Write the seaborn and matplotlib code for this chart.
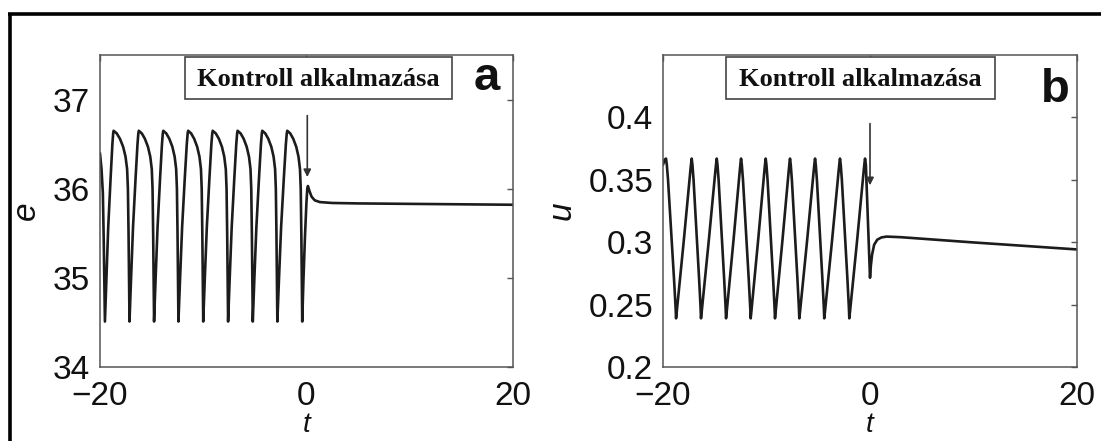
import numpy as np
import pandas as pd
import matplotlib
matplotlib.use("Agg")
import matplotlib.pyplot as plt
from matplotlib.lines import Line2D
from matplotlib.patches import Rectangle
import seaborn as sns

# ---------------- panel a: e(t) ----------------
e_min_t = [-19.52, -17.14, -14.76, -12.40, -10.00, -7.59, -5.20, -2.82, -0.41]
e_peak_t = [-18.68, -16.24, -13.87, -11.46, -9.08, -6.67, -4.28, -1.86]
# shape of the rising edge (fraction of min->peak interval, value)
e_rise_frac = [0.0, 0.17, 0.38, 0.66, 0.86, 0.95]
e_rise_val = [34.51, 35.0, 35.57, 36.13, 36.5, 36.62]
# shape of the falling edge (fraction of peak->min interval, value)
e_fall_frac = [0.0, 0.2, 0.4, 0.6, 0.75, 0.85, 0.9, 0.94, 0.97]
e_fall_val = [36.65, 36.62, 36.56, 36.47, 36.36, 36.22, 36.0, 35.5, 35.0]
e_head_t = [-20.0, -19.85, -19.72, -19.64, -19.58]
e_head_val = [36.40, 36.22, 35.95, 35.45, 35.0]
e_tail_t = [-0.41, -0.30, -0.15, 0.0, 0.08, 0.14, 0.3, 0.5, 0.8, 1.3, 2.5, 5.0, 10.0, 15.0, 20.0]
e_tail_val = [34.51, 34.95, 35.45, 35.85, 36.0, 36.03, 35.97, 35.91, 35.87, 35.85,
              35.84, 35.835, 35.83, 35.825, 35.82]

# ---------------- panel b: u(t) ----------------
u_peak_t = [-19.71, -17.23, -14.81, -12.46, -10.08, -7.73, -5.31, -2.90, -0.48]
u_min_t = [-18.74, -16.33, -13.91, -11.53, -9.18, -6.83, -4.42, -2.00]
u_fall_frac = [0.0, 0.08, 0.2, 0.5, 0.8, 0.95]
u_fall_val = [0.367, 0.362, 0.350, 0.310, 0.270, 0.248]
u_rise_frac = [0.0, 0.05, 0.5, 0.92, 0.97]
u_rise_val = [0.239, 0.245, 0.302, 0.358, 0.364]
u_head_t = [-20.0, -19.85]
u_head_val = [0.362, 0.366]
u_tail_t = [-0.48, -0.40, 0.0, 0.08, 0.2, 0.4, 0.7, 1.1, 1.6, 3.0, 6.0, 10.0, 15.0, 20.0]
u_tail_val = [0.367, 0.362, 0.2715, 0.281, 0.290, 0.298, 0.302, 0.3038, 0.3045,
              0.3040, 0.3022, 0.2998, 0.2970, 0.2942]

# control-onset arrows: (t, y_start, y_tip)
arrow_a = (0.08, 36.82, 36.13)
arrow_b = (0.0, 0.395, 0.3456)

box_text = "Kontroll alkalmazása"
x_ticks = [-20, 0, 20]
e_ticks = [34, 35, 36, 37]
u_ticks = [0.2, 0.25, 0.3, 0.35, 0.4]
u_tick_labels = ["0.2", "0.25", "0.3", "0.35", "0.4"]


def build_e():
    t, v = list(e_head_t), list(e_head_val)
    for i in range(len(e_peak_t)):
        m, p, m2 = e_min_t[i], e_peak_t[i], e_min_t[i + 1]
        t += [m + f * (p - m) for f in e_rise_frac]
        v += e_rise_val
        t += [p + f * (m2 - p) for f in e_fall_frac]
        v += e_fall_val
    t += e_tail_t
    v += e_tail_val
    return pd.DataFrame({"t": t, "value": v})


def build_u():
    t, v = list(u_head_t), list(u_head_val)
    for i in range(len(u_min_t)):
        p, m, p2 = u_peak_t[i], u_min_t[i], u_peak_t[i + 1]
        t += [p + f * (m - p) for f in u_fall_frac]
        v += u_fall_val
        t += [m + f * (p2 - m) for f in u_rise_frac]
        v += u_rise_val
    t += u_tail_t
    v += u_tail_val
    return pd.DataFrame({"t": t, "value": v})


sns.set_theme(style="white")
plt.rcParams["font.family"] = ["Liberation Sans", "DejaVu Sans"]
plt.rcParams["axes.unicode_minus"] = True

fig = plt.figure(figsize=(11.01, 4.41), dpi=100)
fig.patch.set_facecolor("white")

ax_a = fig.add_axes([0.0908, 0.1678, 0.3751, 0.7075])
ax_b = fig.add_axes([0.6022, 0.1678, 0.3760, 0.7075])

line_color = "#1c1c1c"
spine_color = "#555555"


def style_axes(ax, ylim, yticks, yticklabels, ylabel, letter, letter_xy, box_x):
    ax.set_xlim(-20, 20)
    ax.set_ylim(*ylim)
    ax.set_xticks(x_ticks)
    ax.set_xticklabels([f"{x}".replace("-", "\u2212") for x in x_ticks])
    ax.set_yticks(yticks)
    ax.set_yticklabels(yticklabels)
    ax.tick_params(direction="in", length=4, width=1.0, color=spine_color,
                   top=True, right=True, labelsize=24, pad=7,
                   labelcolor="#111111")
    ax.tick_params(axis="x", pad=10)
    for s in ax.spines.values():
        s.set_color(spine_color)
        s.set_linewidth(1.1)
    ax.set_xlabel("t", fontsize=20, style="italic", labelpad=0, color="#111111")
    ax.set_ylabel(ylabel, fontsize=24, style="italic", labelpad=8, color="#111111")
    ax.set_facecolor("white")
    # annotation box
    x0, x1 = box_x
    ax.add_patch(Rectangle((x0, 0.859), x1 - x0, 0.135, transform=ax.transAxes,
                           facecolor="white", edgecolor="#444444", lw=1.2, zorder=5))
    ax.text((x0 + x1) / 2, 0.922, box_text, transform=ax.transAxes,
            ha="center", va="center", fontsize=19, fontweight="bold",
            family=["Liberation Serif", "DejaVu Serif"], color="#111111", zorder=6)
    ax.text(letter_xy[0], letter_xy[1], letter, transform=ax.transAxes,
            ha="center", va="baseline", fontsize=34, fontweight="bold",
            color="#111111", zorder=6)


df_e = build_e()
df_u = build_u()

sns.lineplot(data=df_e, x="t", y="value", ax=ax_a, sort=False, estimator=None,
             color=line_color, lw=1.9)
sns.lineplot(data=df_u, x="t", y="value", ax=ax_b, sort=False, estimator=None,
             color=line_color, lw=1.9)

style_axes(ax_a, (34, 37.5), e_ticks, [str(v) for v in e_ticks], "e", "a",
           (0.937, 0.888), (0.206, 0.852))
style_axes(ax_b, (0.2, 0.45), u_ticks, u_tick_labels, "u", "b",
           (0.948, 0.848), (0.152, 0.803))

for ax, (t0, y0, y1) in ((ax_a, arrow_a), (ax_b, arrow_b)):
    ax.annotate("", xy=(t0, y1), xytext=(t0, y0),
                arrowprops=dict(arrowstyle="-|>", color="#333333", lw=1.2,
                                mutation_scale=11, shrinkA=0, shrinkB=0),
                zorder=4)

# outer frame of the figure
fig.add_artist(Line2D([8 / 1101, 1.0], [1 - 14.3 / 441] * 2, transform=fig.transFigure,
                      color="black", lw=2.6, solid_capstyle="butt"))
fig.add_artist(Line2D([9.5 / 1101] * 2, [0.0, 1 - 12.6 / 441], transform=fig.transFigure,
                      color="black", lw=2.6, solid_capstyle="butt"))

fig.savefig("out.png", dpi=100, facecolor="white")
